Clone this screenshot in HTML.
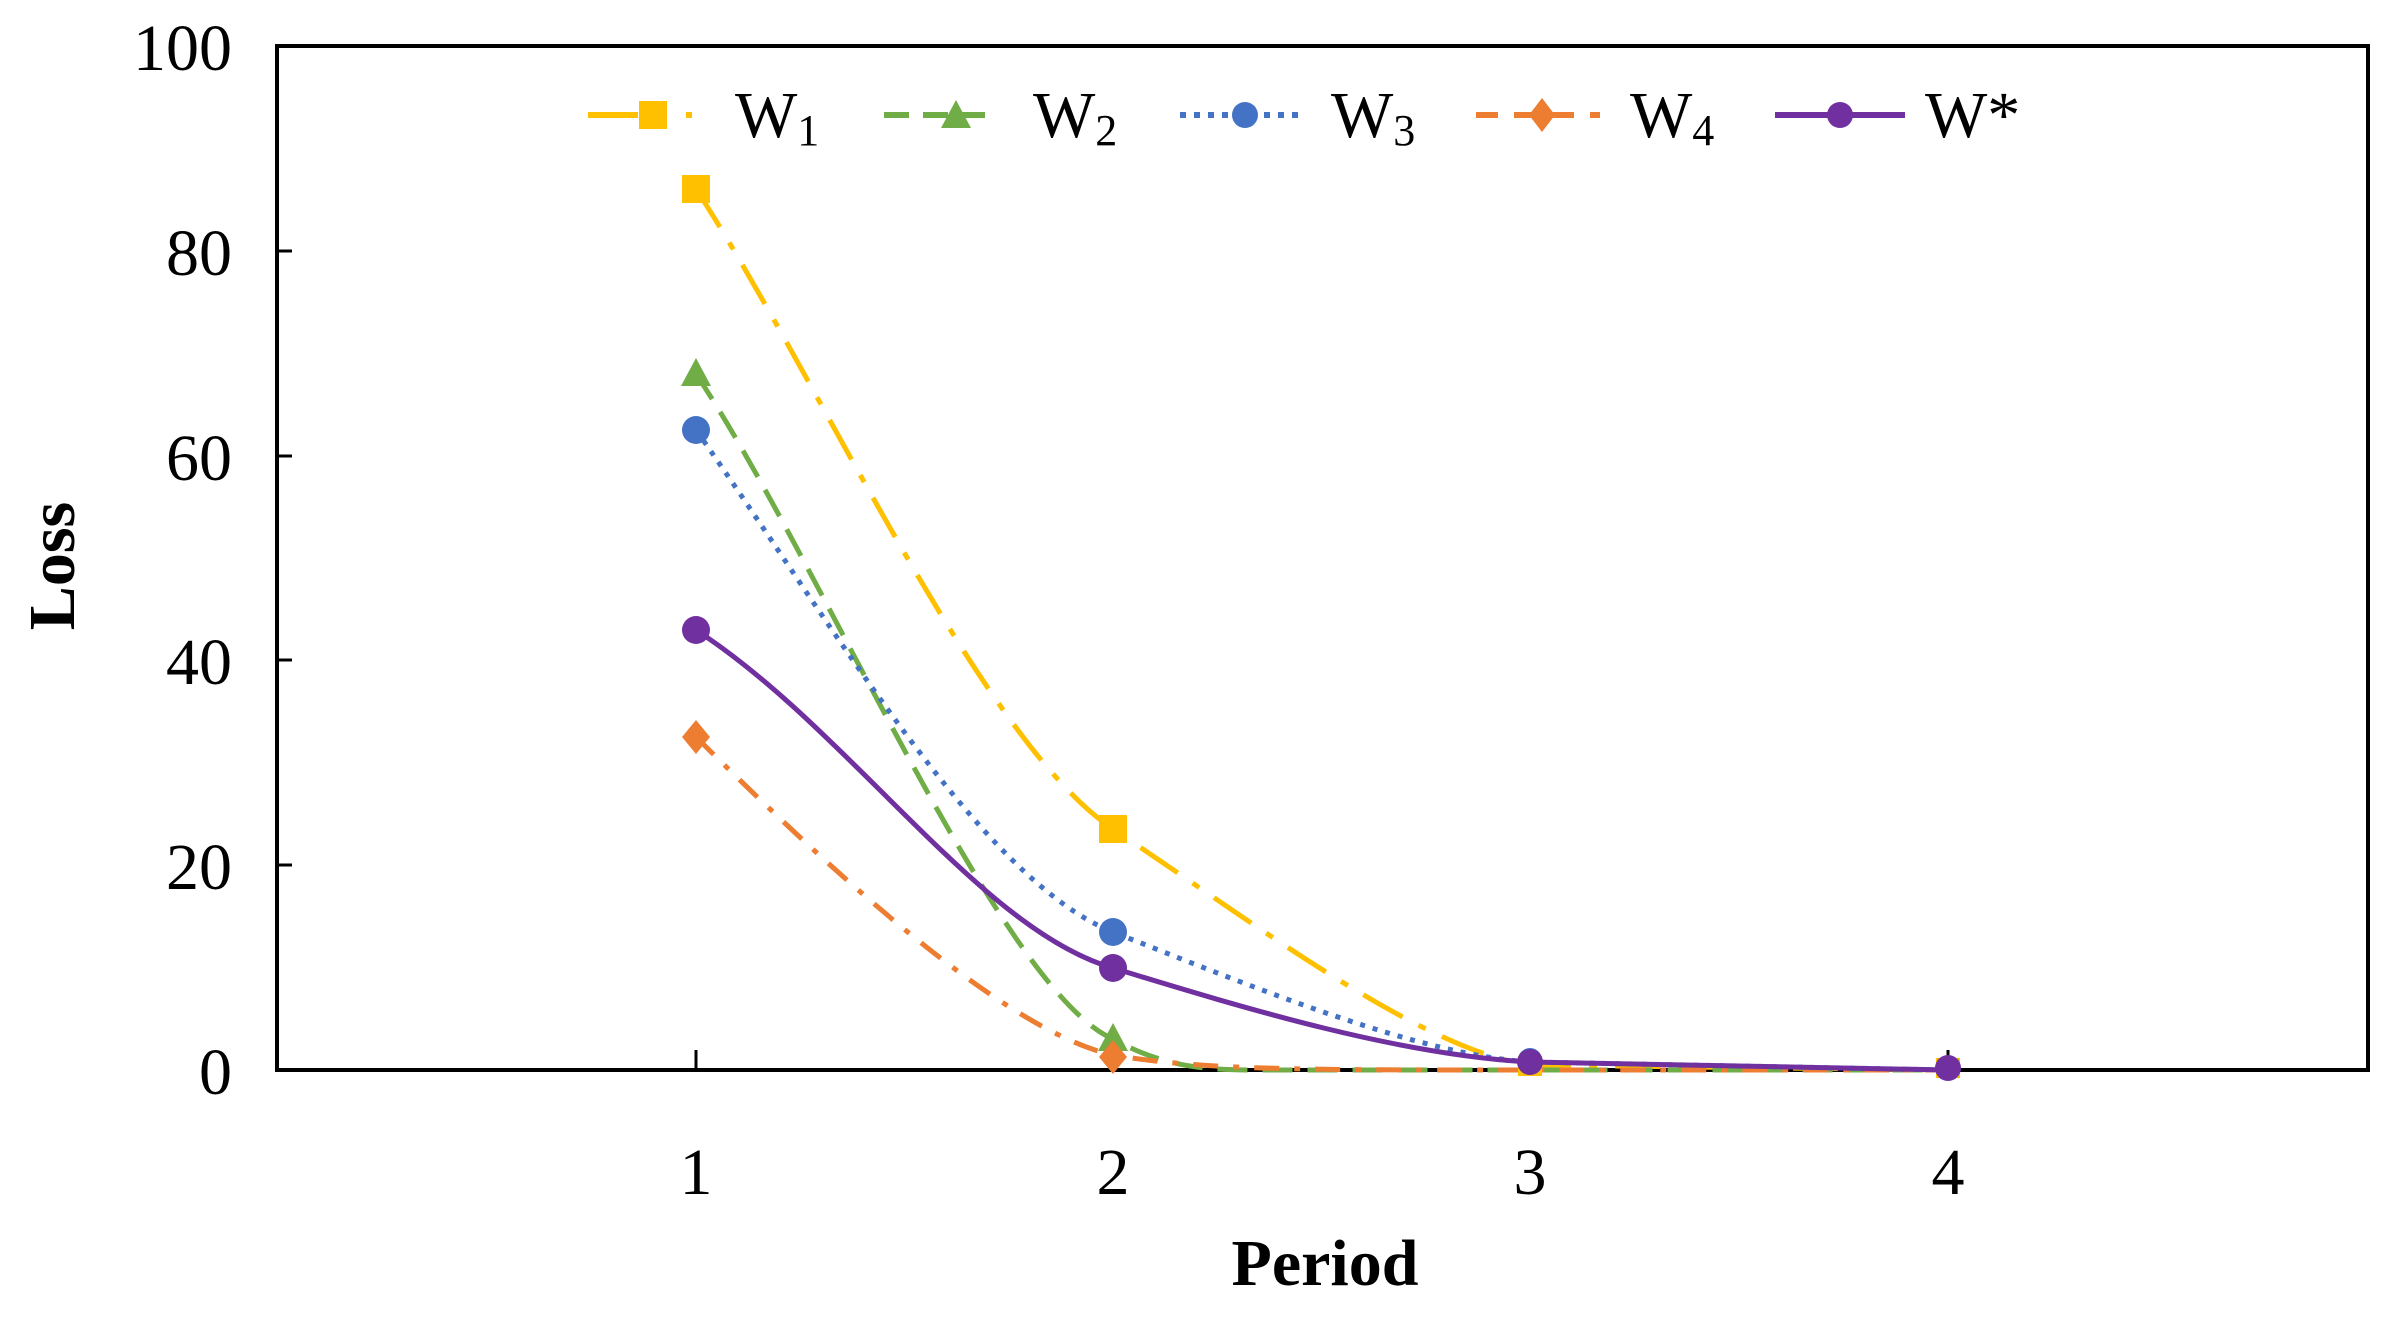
<!DOCTYPE html>
<html><head><meta charset="utf-8"><style>body{margin:0;background:#fff}svg{display:block}</style></head>
<body>
<svg width="2383" height="1323" viewBox="0 0 2383 1323" xmlns="http://www.w3.org/2000/svg" font-family="Liberation Serif, serif">
<rect width="2383" height="1323" fill="#fff"/>
<rect x="277" y="46" width="2091" height="1024" fill="none" stroke="#000" stroke-width="4"/>
<g stroke="#000" stroke-width="3">
<line x1="277" y1="251" x2="292" y2="251"/><line x1="277" y1="456" x2="292" y2="456"/><line x1="277" y1="660" x2="292" y2="660"/><line x1="277" y1="865" x2="292" y2="865"/>
<line x1="696" y1="1070" x2="696" y2="1050"/><line x1="1113" y1="1070" x2="1113" y2="1050"/><line x1="1530" y1="1070" x2="1530" y2="1050"/><line x1="1948" y1="1070" x2="1948" y2="1050"/>
</g>
<g font-size="66" text-anchor="end" fill="#000">
<text x="232" y="70">100</text><text x="232" y="275">80</text><text x="232" y="480">60</text><text x="232" y="684">40</text><text x="232" y="889">20</text><text x="232" y="1094">0</text>
</g>
<g font-size="66" text-anchor="middle" fill="#000">
<text x="696" y="1194">1</text><text x="1113" y="1194">2</text><text x="1530" y="1194">3</text><text x="1948" y="1194">4</text>
</g>
<text x="1325" y="1285" font-size="66" font-weight="bold" text-anchor="middle">Period</text>
<text transform="translate(74,566) rotate(-90)" font-size="66" font-weight="bold" text-anchor="middle">Loss</text>
<g fill="none" stroke-width="5">
<path d="M696,189 C820,380 980,740 1113,829 C1250,920 1420,1050 1530,1065 L1948,1070" stroke="#FFC000" stroke-dasharray="45 18 8 18"/>
<path d="M696,374 C820,560 1000,990 1113,1039 C1160,1065 1200,1070 1250,1070 L1948,1070" stroke="#70AD47" stroke-dasharray="30 15"/>
<path d="M696,430 C830,620 980,880 1113,932 C1260,990 1420,1055 1530,1062 L1948,1070" stroke="#4472C4" stroke-dasharray="5 8"/>
<path d="M696,737 C820,860 1000,1030 1113,1055 C1200,1070 1300,1070 1530,1070 L1948,1070" stroke="#ED7D31" stroke-dasharray="25 15 6 15"/>
<path d="M696,630 C850,730 980,930 1113,968 C1250,1010 1400,1055 1530,1062 L1948,1070" stroke="#7030A0"/>
</g>
<g fill="#FFC000"><rect x="682" y="175" width="28" height="28"/><rect x="1099" y="815" width="28" height="28"/><rect x="1518" y="1056" width="24" height="20"/><rect x="1936" y="1058" width="24" height="20"/></g>
<g fill="#70AD47"><path d="M696,358 l15,28 h-30z"/><path d="M1113,1023 l15,28 h-30z"/></g>
<g fill="#4472C4"><circle cx="696" cy="430" r="14"/><circle cx="1113" cy="932" r="14"/><circle cx="1530" cy="1060" r="12"/></g>
<g fill="#ED7D31"><path d="M696,720 l14,17 -14,17 -14,-17z"/><path d="M1113,1040 l14,17 -14,17 -14,-17z"/></g>
<g fill="#7030A0"><circle cx="696" cy="630" r="14"/><circle cx="1113" cy="968" r="14"/><circle cx="1530" cy="1062" r="13"/><circle cx="1948" cy="1068" r="13"/></g>
<!-- legend -->
<g stroke-width="6" fill="none">
<path d="M588,115 H692" stroke="#FFC000" stroke-dasharray="50 12 6 30"/>
<path d="M884,115 H985" stroke="#70AD47" stroke-dasharray="25 14"/>
<path d="M1180,115 H1300" stroke="#4472C4" stroke-dasharray="6 8"/>
<path d="M1476,115 H1600" stroke="#ED7D31" stroke-dasharray="22 16"/>
<path d="M1775,115 H1905" stroke="#7030A0"/>
</g>
<rect x="639" y="101" width="28" height="28" fill="#FFC000"/>
<path d="M956,100 l15,28 h-30z" fill="#70AD47"/>
<circle cx="1245" cy="115" r="13" fill="#4472C4"/>
<path d="M1542,98 l13,17 -13,17 -13,-17z" fill="#ED7D31"/>
<circle cx="1840" cy="115" r="13" fill="#7030A0"/>
<g font-size="66" fill="#000">
<text x="735" y="137">W<tspan font-size="44" dy="8">1</tspan></text>
<text x="1033" y="137">W<tspan font-size="44" dy="8">2</tspan></text>
<text x="1331" y="137">W<tspan font-size="44" dy="8">3</tspan></text>
<text x="1630" y="137">W<tspan font-size="44" dy="8">4</tspan></text>
<text x="1925" y="137">W*</text>
</g>
</svg>
</body></html>
